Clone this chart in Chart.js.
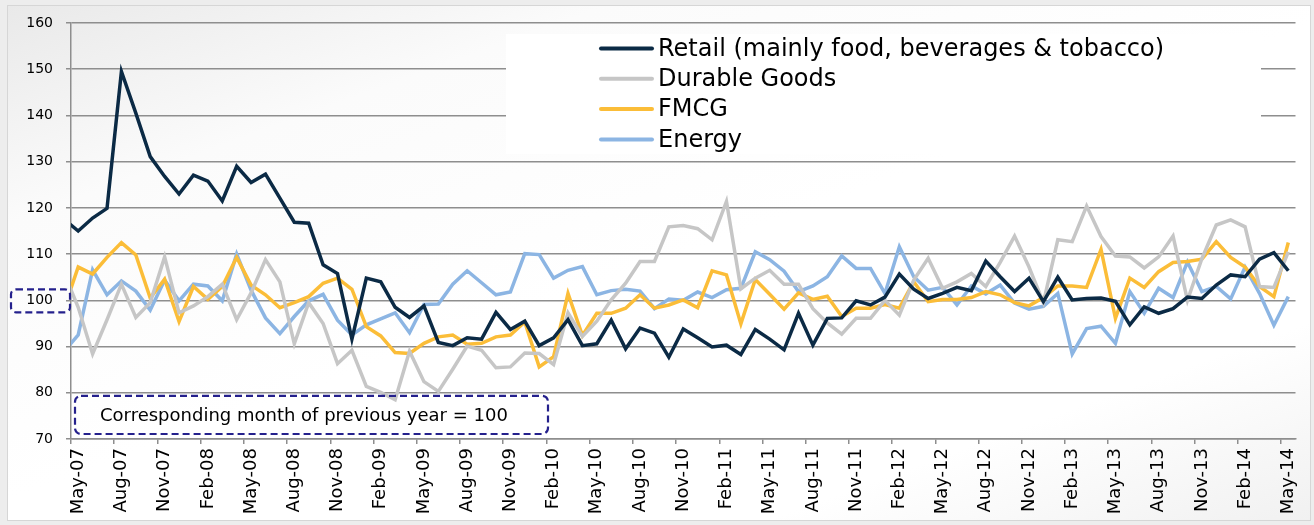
<!DOCTYPE html>
<html>
<head>
<meta charset="utf-8">
<script src="https://cdn.jsdelivr.net/npm/chart.js@4.4.1/dist/chart.umd.min.js"></script>
<style>
    body { margin: 0; background: #ededed; }
    #wrap { position: relative; width: 1314px; height: 525px; overflow: hidden; }
    #frame {
        position: absolute; left: 7px; top: 5px; width: 1302px; height: 514px;
        border: 1px solid #d6d6d6;
        background: linear-gradient(160deg, #e9e9e9 0%, #fbfbfb 22%, #ffffff 50%, #ffffff 80%, #f1f1f1 100%);
    }
    #chart { position: absolute; left: 0; top: 0; }
</style>
</head>
<body>
<div id="wrap">
    <div id="frame"></div>
    <canvas id="chart" width="1314" height="525"></canvas>
</div>
<script>
// first label (Apr-07) sits just left of the axis, only its line stub shows
const months = [
    'Apr-07','May-07','Jun-07','Jul-07','Aug-07','Sep-07','Oct-07','Nov-07','Dec-07',
    'Jan-08','Feb-08','Mar-08','Apr-08','May-08','Jun-08','Jul-08','Aug-08','Sep-08','Oct-08','Nov-08','Dec-08',
    'Jan-09','Feb-09','Mar-09','Apr-09','May-09','Jun-09','Jul-09','Aug-09','Sep-09','Oct-09','Nov-09','Dec-09',
    'Jan-10','Feb-10','Mar-10','Apr-10','May-10','Jun-10','Jul-10','Aug-10','Sep-10','Oct-10','Nov-10','Dec-10',
    'Jan-11','Feb-11','Mar-11','Apr-11','May-11','Jun-11','Jul-11','Aug-11','Sep-11','Oct-11','Nov-11','Dec-11',
    'Jan-12','Feb-12','Mar-12','Apr-12','May-12','Jun-12','Jul-12','Aug-12','Sep-12','Oct-12','Nov-12','Dec-12',
    'Jan-13','Feb-13','Mar-13','Apr-13','May-13','Jun-13','Jul-13','Aug-13','Sep-13','Oct-13','Nov-13','Dec-13',
    'Jan-14','Feb-14','Mar-14','Apr-14','May-14'
];

const retail = [
    117.6,
    115, 117.8, 119.9, 149.5, 140.5, 131.1, 126.8, 123, 127.1, 125.8, 121.5, 129,
    125.5, 127.3, 122.1, 116.9, 116.7, 107.7, 105.8, 91.6, 104.8, 104, 98.5, 96.3,
    98.8, 90.9, 90.2, 91.9, 91.6, 97.4, 93.7, 95.5, 90.2, 91.9, 95.8, 90.2,
    90.6, 95.7, 89.5, 94, 92.9, 87.7, 93.8, 91.9, 89.9, 90.3, 88.3, 93.7,
    91.6, 89.3, 97.2, 90.3, 96.1, 96.2, 99.9, 99, 100.7, 105.7, 102.4, 100.4,
    101.5, 102.8, 102.1, 108.5, 105.1, 101.9, 104.8, 99.7, 105, 100.1, 100.4, 100.5,
    99.8, 94.7, 98.6, 97.2, 98.2, 100.7, 100.4, 103.3, 105.5, 105.1, 108.9, 110.3,
    106.4
];
const durable = [
    106,
    98.5, 88.4, 95.8, 103.5, 96.3, 99.5, 109.4, 97.3, 98.8, 100.8, 103.5, 95.8,
    101.6, 108.8, 104, 90.6, 99.5, 95, 86.3, 89.2, 81.4, 80.1, 78.5, 89,
    82.4, 80.3, 85.1, 90.1, 89.2, 85.4, 85.6, 88.6, 88.5, 86.1, 97.3, 92.2,
    95.5, 100.1, 103.7, 108.4, 108.4, 115.9, 116.2, 115.5, 113.1, 121.4, 102.5, 104.8,
    106.5, 103.5, 103.5, 98.2, 95.1, 92.7, 96.1, 96.1, 100, 96.8, 104.4, 109.1,
    102.6, 104, 105.8, 103, 108.2, 113.9, 107.2, 99.5, 113.1, 112.7, 120.4, 113.8,
    109.6, 109.4, 107, 109.4, 113.9, 100, 109, 116.3, 117.4, 115.9, 103, 102.8,
    110.5
];
const fmcg = [
    98,
    107.2, 105.7, 109.3, 112.5, 109.8, 100.5, 104.6, 95.4, 103, 100.2, 103, 109.3,
    103.3, 101.2, 98.4, 99.5, 100.8, 103.7, 104.8, 102.4, 94.3, 92.3, 88.7, 88.5,
    90.7, 92.1, 92.5, 90.5, 90.7, 92.1, 92.5, 95.3, 85.6, 87.8, 101.5, 92.4,
    97.2, 97.2, 98.3, 101.2, 98.3, 99, 100.1, 98.4, 106.4, 105.5, 94.9, 104.5,
    101.3, 98.1, 101.6, 100.2, 100.9, 96.5, 98.3, 98.3, 99.1, 98.3, 104, 99.7,
    100.2, 100.2, 100.6, 101.9, 101.2, 99.5, 98.8, 100.6, 103.1, 103.1, 102.8, 111,
    96.1, 104.8, 102.8, 106.2, 108.2, 108.4, 108.9, 112.7, 109.3, 107.2, 103, 100.8,
    112.5
];
const energy = [
    88.9,
    92.5, 106.6, 101.2, 104.2, 102, 97.9, 104.4, 99.9, 103.5, 103.1, 99.9, 110,
    102.2, 96.2, 92.8, 96.5, 99.9, 101.3, 95.7, 92.5, 94.7, 96, 97.3, 93,
    99.1, 99.2, 103.5, 106.4, 103.8, 101.2, 101.8, 110.1, 109.9, 104.8, 106.5, 107.3,
    101.2, 102.1, 102.4, 102, 98.2, 100.3, 100, 101.8, 100.6, 102.3, 102.6, 110.5,
    108.8, 106.3, 101.9, 103.1, 105.1, 109.6, 106.9, 106.9, 101.5, 111.6, 105.1, 102.2,
    102.8, 99, 103.1, 101.4, 103.3, 99.4, 98.1, 98.7, 101.5, 88.4, 93.9, 94.4,
    90.7, 101.9, 97.2, 102.6, 100.6, 108.3, 101.9, 103, 100.3, 107.2, 101.5, 94.6,
    100.8
];

const seriesNames = ['Retail (mainly food, beverages & tobacco)', 'Durable Goods', 'FMCG', 'Energy'];
const seriesColors = ['#0b2a45', '#c6c6c6', '#fbbd38', '#8cb5e3'];
const yTicks = [70, 80, 90, 100, 110, 120, 130, 140, 150, 160];
const noteText = 'Corresponding month of previous year = 100';

const FONT = '"DejaVu Sans", Verdana, sans-serif';
const GRID = '#8e8e8e';
const NOTE = '#24208c';

const roundRect = (ctx, x, y, w, h, r) => {
    ctx.beginPath();
    ctx.moveTo(x + r, y);
    ctx.arcTo(x + w, y, x + w, y + h, r);
    ctx.arcTo(x + w, y + h, x, y + h, r);
    ctx.arcTo(x, y + h, x, y, r);
    ctx.arcTo(x, y, x + w, y, r);
    ctx.closePath();
};

// dashed boxes: one round the 100 tick, one with the note
const notePlugin = {
    id: 'notes',
    afterDraw(chart) {
        const ctx = chart.ctx;
        const y = chart.scales.y;
        const area = chart.chartArea;
        ctx.save();
        ctx.strokeStyle = NOTE;
        ctx.lineWidth = 2.2;
        ctx.setLineDash([7, 4]);
        const y100 = y.getPixelForValue(100);
        roundRect(ctx, 11, y100 - 11, area.left - 12, 23, 5);
        ctx.stroke();
        const top = y.getPixelForValue(80) + 3;
        const bottom = y.getPixelForValue(70) - 5;
        roundRect(ctx, area.left + 4, top, 473, bottom - top, 6);
        ctx.stroke();
        ctx.setLineDash([]);
        ctx.fillStyle = '#000';
        ctx.font = '18px ' + FONT;
        ctx.textBaseline = 'middle';
        ctx.fillText(noteText, area.left + 29, (top + bottom) / 2 + 1);
        ctx.restore();
    }
};

// legend sits in a white box over the plot
const legendPlugin = {
    id: 'boxLegend',
    afterDraw(chart) {
        const ctx = chart.ctx;
        ctx.save();
        ctx.fillStyle = '#fff';
        ctx.fillRect(506, 34, 755, 120);
        ctx.font = '24px ' + FONT;
        ctx.textBaseline = 'middle';
        chart.data.datasets.forEach((ds, i) => {
            const rowY = 48.5 + i * 30.3;
            ctx.strokeStyle = ds.borderColor;
            ctx.lineWidth = 4;
            ctx.lineCap = 'round';
            ctx.beginPath();
            ctx.moveTo(601, rowY);
            ctx.lineTo(652, rowY);
            ctx.stroke();
            ctx.fillStyle = '#000';
            ctx.fillText(ds.label, 658, rowY + 1);
        });
        ctx.restore();
    }
};

const dataSets = [retail, durable, fmcg, energy].map((values, i) => ({
    label: seriesNames[i],
    data: values,
    borderColor: seriesColors[i],
    backgroundColor: seriesColors[i],
    borderWidth: 3.5,
    pointRadius: 0,
    tension: 0,
    clip: 0
}));

new Chart(document.getElementById('chart'), {
    type: 'line',
    data: { labels: months, datasets: dataSets },
    options: {
        responsive: false,
        animation: false,
        layout: { padding: { top: 23, right: 17, left: 0, bottom: 0 } },
        plugins: { legend: { display: false }, tooltip: { enabled: false } },
        scales: {
            x: {
                type: 'category',
                min: 'May-07',
                offset: true,
                afterFit: (scale) => { scale.height = 86; },
                grid: {
                    offset: true,
                    drawOnChartArea: false,
                    tickLength: 5,
                    lineWidth: 1.5,
                    color: (ctx) => ctx.index % 3 === 0 ? GRID : 'rgba(0,0,0,0)'
                },
                border: { color: GRID, width: 1.5 },
                ticks: {
                    autoSkip: false,
                    minRotation: 90,
                    maxRotation: 90,
                    padding: 4,
                    color: '#000',
                    font: { family: FONT, size: 18 },
                    callback: function (value, index) {
                        return index % 3 === 0 ? this.getLabelForValue(value) : '';
                    }
                }
            },
            y: {
                min: yTicks[0],
                max: yTicks[yTicks.length - 1],
                afterFit: (scale) => { scale.width = 71; },
                afterBuildTicks: (scale) => { scale.ticks = yTicks.map(v => ({ value: v })); },
                grid: { color: GRID, lineWidth: 1.5, tickLength: 5 },
                border: { color: GRID, width: 1.5 },
                ticks: {
                    padding: 13,
                    color: '#000',
                    font: { family: FONT, size: 14 }
                }
            }
        }
    },
    plugins: [notePlugin, legendPlugin]
});
</script>
</body>
</html>
